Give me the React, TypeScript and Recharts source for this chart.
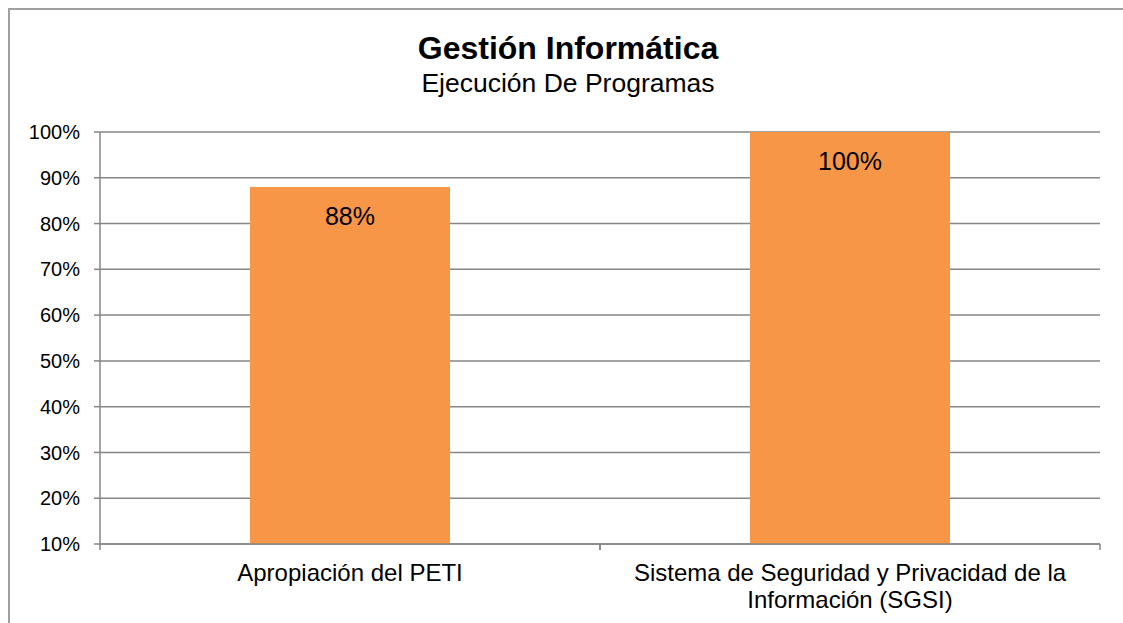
import { BarChart, Bar, XAxis, YAxis, CartesianGrid, LabelList } from 'recharts';

const categories = ['Apropiación del PETI', 'Sistema de Seguridad y Privacidad de la Información (SGSI)'];
const values = [0.88, 1.0];
const yTicks = [0.1, 0.2, 0.3, 0.4, 0.5, 0.6, 0.7, 0.8, 0.9, 1.0];

const data = categories.map((name, i) => ({ name, value: values[i] }));

const FONT = '"Liberation Sans", Arial, sans-serif';
const GRID = '#868686';
const TICK_SIZE = 6;
const TICK_MARGIN = 13;

const pct = (v: number) => `${Math.round(v * 100)}%`;

// greedy word wrap, roughly the width of one category
function wrap(label: string, maxChars: number) {
  const lines: string[] = [];
  let cur = '';
  for (const w of label.split(' ')) {
    const next = cur ? `${cur} ${w}` : w;
    if (next.length > maxChars && cur) {
      lines.push(cur);
      cur = w;
    } else {
      cur = next;
    }
  }
  if (cur) lines.push(cur);
  return lines;
}

function CategoryTick(props: any) {
  const { x, y, payload } = props;
  const half = payload?.offset || 0;
  const axisY = y - TICK_MARGIN - TICK_SIZE;
  const lines = wrap(String(payload.value), 42);
  return (
    <g>
      {half > 0 && (
        <>
          <line x1={x - half} x2={x - half} y1={axisY} y2={axisY + TICK_SIZE} stroke={GRID} strokeWidth={1.5} />
          <line x1={x + half} x2={x + half} y1={axisY} y2={axisY + TICK_SIZE} stroke={GRID} strokeWidth={1.5} />
        </>
      )}
      <text x={x} y={y + 18} textAnchor="middle" fontSize={24} fontFamily={FONT} fill="#000">
        {lines.map((l, i) => (
          <tspan key={i} x={x} dy={i === 0 ? 0 : 27}>
            {l}
          </tspan>
        ))}
      </text>
    </g>
  );
}

export default function App() {
  return (
    <div
      style={{
        position: 'fixed',
        left: 8,
        top: 8,
        width: 1130,
        height: 630,
        border: '2px solid #a0a0a0',
        background: '#fff',
        fontFamily: FONT,
      }}
    >
      <svg width={1125} height={100} style={{ position: 'absolute', left: 0, top: 0 }}>
        <text x={558} y={49} textAnchor="middle" fontSize={32} fontWeight="bold" fontFamily={FONT} fill="#000">
          Gestión Informática
        </text>
        <text x={558} y={82} textAnchor="middle" fontSize={26.5} fontFamily={FONT} fill="#000">
          Ejecución De Programas
        </text>
      </svg>
      <BarChart
        width={1125}
        height={610}
        data={data}
        margin={{ top: 122, right: 35, left: 0, bottom: 0 }}
        style={{ position: 'absolute', left: 0, top: 0 }}
      >
        <CartesianGrid vertical={false} stroke={GRID} strokeWidth={1.5} />
        <XAxis
          dataKey="name"
          height={76}
          axisLine={{ stroke: GRID, strokeWidth: 1.5 }}
          tickLine={false}
          tickSize={TICK_SIZE}
          tickMargin={TICK_MARGIN}
          tick={CategoryTick}
          interval={0}
        />
        <YAxis
          width={90}
          domain={[0.1, 1]}
          ticks={yTicks}
          tickFormatter={pct}
          axisLine={{ stroke: GRID, strokeWidth: 1.5 }}
          tickLine={{ stroke: GRID, strokeWidth: 1.5 }}
          tickSize={6}
          tickMargin={14}
          tick={{ fontSize: 20, fill: '#000', fontFamily: FONT }}
        />
        <Bar dataKey="value" fill="#F79646" barSize={200} isAnimationActive={false}>
          <LabelList
            dataKey="value"
            position="insideTop"
            offset={20}
            formatter={(v: any) => pct(Number(v))}
            fill="#000"
            fontSize={25}
            fontFamily={FONT}
          />
        </Bar>
      </BarChart>
    </div>
  );
}
